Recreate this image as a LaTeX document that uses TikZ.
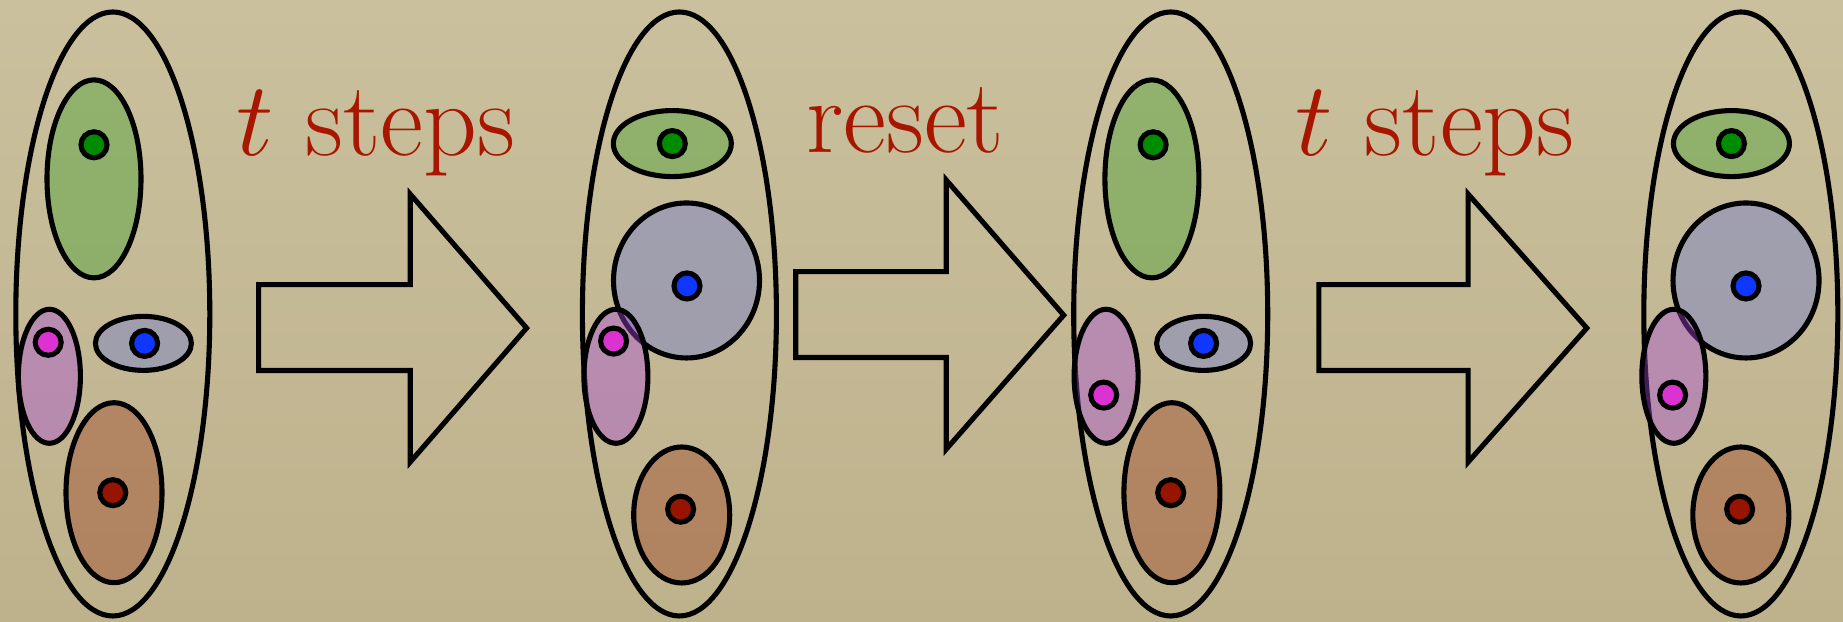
\RequirePackage{fix-cm}
\documentclass[tikz,border=0pt]{standalone}
\usepackage{tikz}
\usetikzlibrary{calc}
\usepackage{xcolor}

% Couleurs
\definecolor{fondhaut}{RGB}{202,192,157}
\definecolor{fondbas}{RGB}{190,178,140}
\definecolor{rougetexte}{RGB}{168,22,0}
\definecolor{vertclair}{RGB}{60,160,40}
\definecolor{violetclair}{RGB}{168,74,218}
\definecolor{bleuclair}{RGB}{106,119,211}
\definecolor{orangeclair}{RGB}{156,62,31}
\definecolor{vertpoint}{RGB}{0,140,0}
\definecolor{magentapoint}{RGB}{220,50,210}
\definecolor{bleupoint}{RGB}{15,55,255}
\definecolor{rougepoint}{RGB}{150,20,0}

\begin{document}
\begin{tikzpicture}[scale=1,>=stealth,
    contour/.style={line width=1.45pt,black},
    zone/.style={line width=1.45pt,draw=black,fill opacity=0.4},
    point/.style={line width=1.45pt,draw=black},
    fleche/.style={line width=1.45pt,black,line join=miter},
    etiquette/.style={text=rougetexte,font=\fontsize{30}{36}\selectfont,anchor=base}]

    % Fond
    \fill[top color=fondhaut,bottom color=fondbas] (0,0) rectangle (18.43,6.22);
    \useasboundingbox (0,0) rectangle (18.43,6.22);

    % Premier ensemble
    \coordinate (E1) at (1.128,3.080);
    \coordinate (V1) at (0.940,4.431);
    \coordinate (P1) at (0.494,2.457);
    \coordinate (B1) at (1.434,2.786);
    \coordinate (O1) at (1.140,1.293);
    \draw[contour] (E1) ellipse [x radius=0.97, y radius=3.02];
    \draw[zone,fill=vertclair] (V1) ellipse [x radius=0.47, y radius=0.99];
    \draw[zone,fill=violetclair] (P1) ellipse [x radius=0.31, y radius=0.67];
    \draw[zone,fill=bleuclair] (B1) ellipse [x radius=0.48, y radius=0.27];
    \draw[zone,fill=orangeclair] (O1) ellipse [x radius=0.48, y radius=0.90];
    \draw[point,fill=vertpoint] (0.940,4.772) circle (0.13);
    \draw[point,fill=magentapoint] (0.482,2.797) circle (0.13);
    \draw[point,fill=bleupoint] (1.446,2.786) circle (0.13);
    \draw[point,fill=rougepoint] (1.128,1.293) circle (0.13);

    % Deuxieme ensemble
    \coordinate (E2) at (6.794,3.080);
    \coordinate (V2) at (6.723,4.784);
    \coordinate (B2) at (6.865,3.415);
    \coordinate (P2) at (6.159,2.457);
    \coordinate (O2) at (6.817,1.070);
    \draw[contour] (E2) ellipse [x radius=0.97, y radius=3.02];
    \draw[zone,fill=vertclair] (V2) ellipse [x radius=0.59, y radius=0.33];
    \draw[zone,fill=bleuclair] (B2) ellipse [x radius=0.73, y radius=0.775];
    \draw[zone,fill=violetclair] (P2) ellipse [x radius=0.32, y radius=0.67];
    \draw[zone,fill=orangeclair] (O2) ellipse [x radius=0.48, y radius=0.68];
    \draw[point,fill=vertpoint] (V2) circle (0.13);
    \draw[point,fill=bleupoint] (6.87,3.36) circle (0.13);
    \draw[point,fill=magentapoint] (6.136,2.809) circle (0.13);
    \draw[point,fill=rougepoint] (6.806,1.128) circle (0.13);

    % Troisieme ensemble
    \coordinate (E3) at (11.707,3.080);
    \coordinate (V3) at (11.519,4.431);
    \coordinate (P3) at (11.061,2.457);
    \coordinate (B3) at (12.036,2.786);
    \coordinate (O3) at (11.719,1.293);
    \draw[contour] (E3) ellipse [x radius=0.97, y radius=3.02];
    \draw[zone,fill=vertclair] (V3) ellipse [x radius=0.47, y radius=0.99];
    \draw[zone,fill=violetclair] (P3) ellipse [x radius=0.32, y radius=0.67];
    \draw[zone,fill=bleuclair] (B3) ellipse [x radius=0.47, y radius=0.27];
    \draw[zone,fill=orangeclair] (O3) ellipse [x radius=0.48, y radius=0.90];
    \draw[point,fill=vertpoint] (11.531,4.772) circle (0.13);
    \draw[point,fill=magentapoint] (11.037,2.269) circle (0.13);
    \draw[point,fill=bleupoint] (B3) circle (0.13);
    \draw[point,fill=rougepoint] (11.707,1.293) circle (0.13);

    % Quatrieme ensemble
    \coordinate (E4) at (17.408,3.080);
    \coordinate (V4) at (17.314,4.784);
    \coordinate (B4) at (17.46,3.415);
    \coordinate (P4) at (16.738,2.457);
    \coordinate (O4) at (17.408,1.070);
    \draw[contour] (E4) ellipse [x radius=0.97, y radius=3.02];
    \draw[zone,fill=vertclair] (V4) ellipse [x radius=0.58, y radius=0.33];
    \draw[zone,fill=bleuclair] (B4) ellipse [x radius=0.73, y radius=0.775];
    \draw[zone,fill=violetclair] (P4) ellipse [x radius=0.32, y radius=0.67];
    \draw[zone,fill=orangeclair] (O4) ellipse [x radius=0.48, y radius=0.68];
    \draw[point,fill=vertpoint] (V4) circle (0.13);
    \draw[point,fill=bleupoint] (17.46,3.36) circle (0.13);
    \draw[point,fill=magentapoint] (16.726,2.269) circle (0.13);
    \draw[point,fill=rougepoint] (17.396,1.128) circle (0.13);

    % Flèches entre les ensembles
    \draw[fleche] (2.586,3.373) -- (4.102,3.373) -- (4.102,4.279) -- (5.266,2.939)
        -- (4.102,1.599) -- (4.102,2.515) -- (2.586,2.515) -- cycle;
    \draw[fleche] (7.957,3.503) -- (9.462,3.503) -- (9.462,4.420) -- (10.637,3.068)
        -- (9.462,1.728) -- (9.462,2.645) -- (7.957,2.645) -- cycle;
    \draw[fleche] (13.188,3.373) -- (14.681,3.373) -- (14.681,4.279) -- (15.868,2.939)
        -- (14.681,1.599) -- (14.681,2.515) -- (13.188,2.515) -- cycle;

    % Étiquettes au-dessus des flèches
    \node[etiquette] (pas1) at (3.761,4.666) {$t$ steps};
    \node[etiquette] (raz) at (9.051,4.690) {reset};
    \node[etiquette] (pas2) at (14.352,4.666) {$t$ steps};
\end{tikzpicture}
\end{document}
